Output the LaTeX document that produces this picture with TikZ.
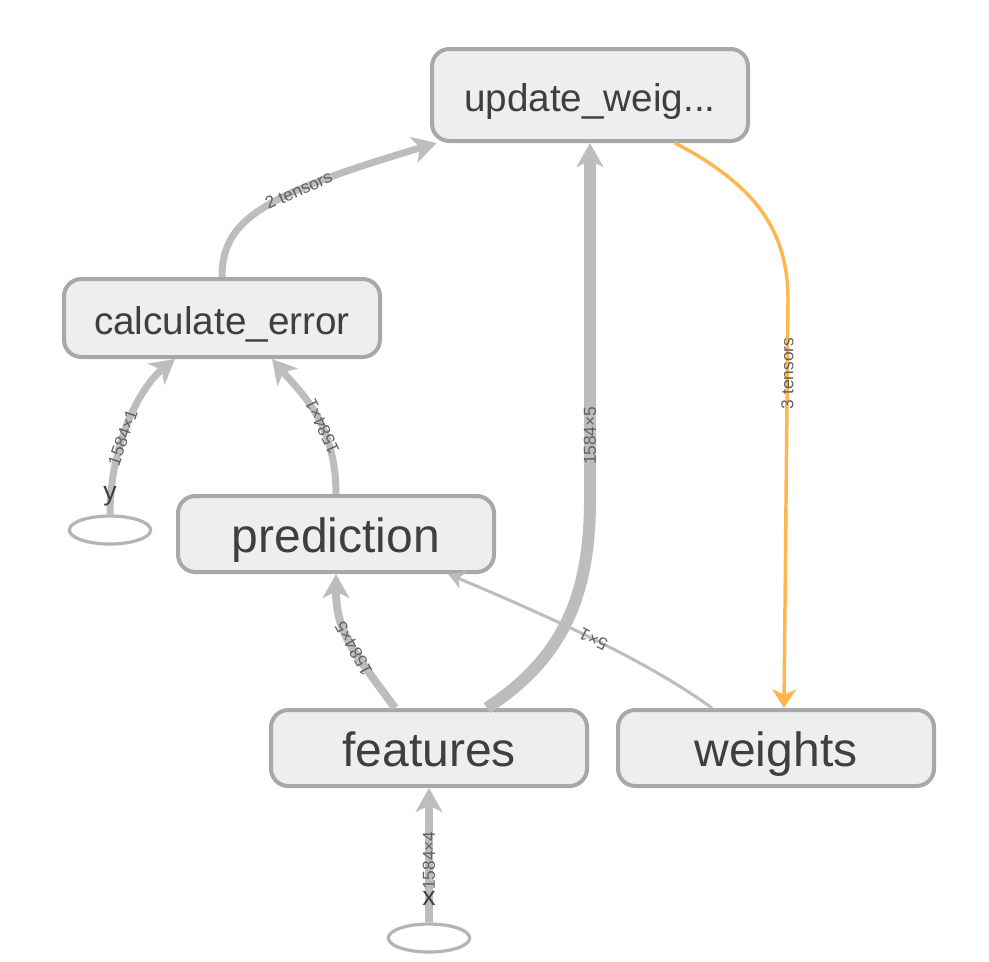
\documentclass[tikz,border=0pt]{standalone}
\usepackage{fontspec}
\setmainfont{Liberation Sans}
\usetikzlibrary{arrows.meta,shapes.geometric}

\definecolor{boxfill}{HTML}{EEEEEE}
\definecolor{boxline}{HTML}{A8A8A8}
\definecolor{ovalline}{HTML}{B4B4B4}
\definecolor{edgegray}{HTML}{BDBDBD}
\definecolor{refedge}{HTML}{FFB74D}
\definecolor{nametext}{HTML}{3F3F3F}
\definecolor{shapetext}{HTML}{616161}

\tikzset{
  opbox/.style={draw=boxline, fill=boxfill, line width=3pt, rounded corners=13pt,
    minimum width=237pt, minimum height=57pt, inner sep=0pt, text=nametext,
    text height=30pt, text depth=3pt, font={\fontsize{36}{40}\selectfont}},
  smallop/.style={opbox, text height=26pt, text depth=2pt, font={\fontsize{29}{32}\selectfont}},
  inputoval/.style={ellipse, draw=ovalline, fill=white, line width=2.4pt,
    minimum width=61pt, minimum height=21pt, inner sep=0pt},
  varname/.style={text=nametext, inner sep=0pt, font={\fontsize{20}{22}\selectfont}},
  dataedge/.style={draw=edgegray, line width=#1},
  bighead/.style={-{Stealth[length=18pt,width=20pt,inset=5pt]}},
  smallhead/.style={-{Stealth[length=12pt,width=13pt,inset=3.5pt]}},
  orangehead/.style={-{Stealth[length=14pt,width=18pt,inset=4pt]}},
  shapelbl/.style={text=shapetext, inner sep=1pt, font={\fontsize{13}{14}\selectfont}},
  onpath/.style={shapelbl, sloped, allow upside down}
}

\begin{document}
\begin{tikzpicture}[x=0.75pt,y=-0.75pt]
\useasboundingbox (0,0) rectangle (989,961);

\node[smallop, minimum height=69pt] (upd) at (590,95) {update\_weig...};
\node[smallop, minimum height=58.5pt] (calc) at (222,318) {calculate\_error};
\node[opbox] (pred) at (336,534) {prediction};
\node[opbox] (feat) at (429,748) {features};
\node[opbox] (wts) at (776,748) {weights};
\node[inputoval] (yin) at (110,530) {};
\node[inputoval] (xin) at (429,938) {};

\draw[dataedge=6pt, bighead] (xin.north) -- (feat.south)
  node[onpath, pos=0.46] {1584×4};
\draw[dataedge=5.25pt, bighead] (yin.north) .. controls +(0,-70) and +(-35,28) .. ([xshift=-35.25pt]calc.south)
  node[onpath, pos=0.4] {1584×1};
\draw[dataedge=5.25pt, bighead] (pred.north) .. controls +(0,-70) and +(30,35) .. ([xshift=37.5pt]calc.south)
  node[onpath, pos=0.4] {1584×1};
\draw[dataedge=6pt, bighead] ([xshift=-25.5pt]feat.north) .. controls +(-40,-55) and +(0,60) .. (pred.south)
  node[onpath, pos=0.45] {1584×5};
\draw[dataedge=9pt, bighead] ([xshift=43.5pt]feat.north) .. controls +(73,-48) and +(0,100) .. (upd.south |- 0,500) -- (upd.south)
  node[onpath, pos=0.18] {1584×5};
\draw[dataedge=2.25pt, smallhead] ([xshift=-48pt]wts.north) .. controls +(-62,-45) and +(112,47) .. ([xshift=84pt]pred.south)
  node[onpath, pos=0.52] {5×1};
\draw[dataedge=5.25pt, bighead] (calc.north) .. controls +(0,-57) and +(-175,52) .. ([xshift=5pt]upd.south west)
  node[onpath, pos=0.65] {2 tensors};
\draw[draw=refedge, line width=2.6pt, orangehead] ([xshift=63.75pt]upd.south) .. controls +(80,42) and +(0,-70) .. (788,300) -- ([xshift=6pt]wts.north)
  node[shapelbl, rotate=90, pos=0.18] {3 tensors};

\node[varname] (ylbl) at (110,496) {y};
\node[varname] (xlbl) at (429,898) {x};
\end{tikzpicture}
\end{document}
